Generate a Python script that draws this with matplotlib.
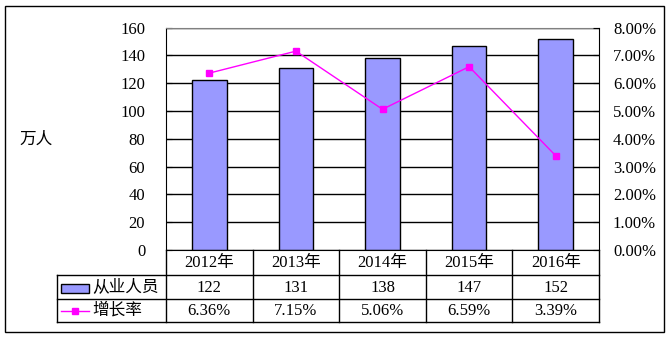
import numpy as np
import matplotlib
matplotlib.use('Agg')
import matplotlib.pyplot as plt
from matplotlib.patches import Rectangle
from matplotlib.lines import Line2D
from matplotlib.transforms import blended_transform_factory
from matplotlib.ticker import FuncFormatter

plt.rcParams['font.family'] = ['Liberation Serif', 'Noto Sans CJK SC']

years = ['2012年', '2013年', '2014年', '2015年', '2016年']
staff = [122, 131, 138, 147, 152]          # 万人
growth = [6.36, 7.15, 5.06, 6.59, 3.39]    # %
series_names = ['从业人员', '增长率']

BAR_C = '#9999FF'
LINE_C = '#FF00FF'
W, H = 671, 338

fig = plt.figure(figsize=(W / 100, H / 100), dpi=100)

# plot area in pixel coords
px_l, px_r, px_t, px_b = 166, 599, 27.5, 250
ax = fig.add_axes([px_l / W, (H - px_b) / H, (px_r - px_l) / W, (px_b - px_t) / H])
x = np.arange(len(years))
ax.bar(x, staff, width=0.4, color=BAR_C, edgecolor='black', linewidth=1, zorder=2)
ax.set_xlim(-0.5, len(years) - 0.5)
ax.set_ylim(0, 160)
ax.set_yticks(np.arange(0, 161, 20))
ax.set_axisbelow(True)
ax.grid(axis='y', color='black', linewidth=1)
ax.set_xticks([])
ax.tick_params(axis='y', direction='in', length=4, pad=15, labelsize=12)
ax.spines['top'].set_color('#808080')
ax.spines['right'].set_visible(False)
ax.spines['left'].set_color('black')
ax.spines['bottom'].set_color('black')

ax2 = ax.twinx()
ax2.plot(x, np.array(growth) / 100, color=LINE_C, linewidth=1,
         marker='s', markersize=5, markeredgecolor=LINE_C, zorder=3)
ax2.set_ylim(0, 0.08)
ax2.set_yticks(np.arange(0, 0.081, 0.01))
ax2.yaxis.set_major_formatter(FuncFormatter(lambda v, p: '%.2f%%' % (v * 100)))
ax2.tick_params(axis='y', direction='in', length=4, pad=10, labelsize=12)
for s in ['top', 'left', 'bottom']:
    ax2.spines[s].set_visible(False)
ax2.spines['right'].set_color('black')

fig.text(19 / W, (H - 140) / H, '万人', fontsize=12, va='center', ha='left')

# overlay in pixel coords for the data table and frame
ov = fig.add_axes([0, 0, 1, 1])
ov.set_xlim(0, W)
ov.set_ylim(H, 0)
ov.axis('off')
ov.patch.set_visible(False)
tr = blended_transform_factory(ax.transData, ov.transData)

row_y = [250, 274.5, 298.5, 321.5]
tab_l = 57
# horizontal lines
for y in row_y[1:]:
    ov.add_line(Line2D([tab_l, px_r], [y, y], color='black', lw=1))
ov.add_line(Line2D([tab_l, tab_l], [row_y[1], row_y[3]], color='black', lw=1))
# column boundaries follow the category axis
for i in range(len(years) + 1):
    ov.add_line(Line2D([i - 0.5, i - 0.5], [row_y[0], row_y[3]], color='black', lw=1, transform=tr))

for i in range(len(years)):
    ov.text(i, (row_y[0] + row_y[1]) / 2 + 1, years[i], transform=tr,
            ha='center', va='center', fontsize=12)
    ov.text(i, (row_y[1] + row_y[2]) / 2 + 1, str(staff[i]), transform=tr,
            ha='center', va='center', fontsize=12)
    ov.text(i, (row_y[2] + row_y[3]) / 2 + 1, '%.2f%%' % growth[i], transform=tr,
            ha='center', va='center', fontsize=12)

# legend keys in the table's first column
ov.add_patch(Rectangle((61, 284), 28, 9, facecolor=BAR_C, edgecolor='black', lw=1))
ov.add_line(Line2D([61, 89], [310.5, 310.5], color=LINE_C, lw=1))
ov.add_line(Line2D([75], [310.5], color=LINE_C, marker='s', markersize=5))
ov.text(92, (row_y[1] + row_y[2]) / 2 + 1, series_names[0], ha='left', va='center', fontsize=12)
ov.text(92, (row_y[2] + row_y[3]) / 2 + 1, series_names[1], ha='left', va='center', fontsize=12)

# outer frame
ov.add_patch(Rectangle((5, 6), 659, 326, fill=False, edgecolor='black', lw=1))

fig.savefig('out.png', dpi=100)
